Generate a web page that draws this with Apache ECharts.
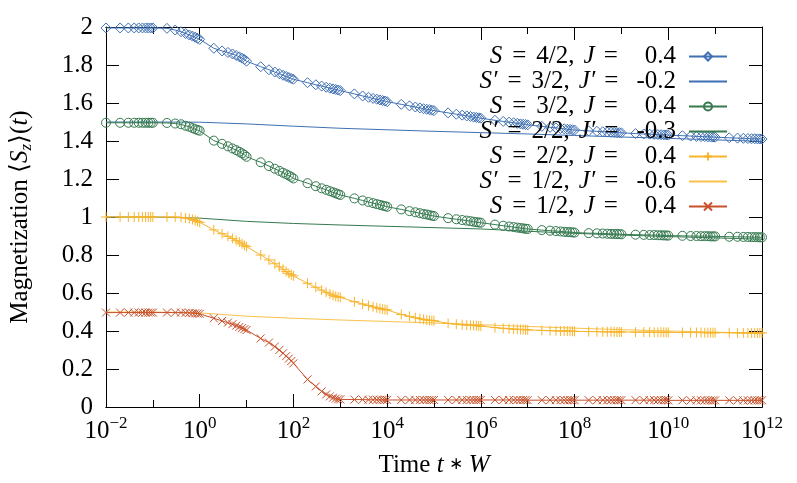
<!DOCTYPE html>
<html>
<head>
<meta charset="utf-8">
<script src="https://cdn.jsdelivr.net/npm/echarts@6/dist/echarts.min.js"></script>
<style>html,body{margin:0;padding:0;background:#fff}#c{width:797px;height:483px}</style>
</head>
<body>
<div id="c"></div>
<script>
// ---- data ----
const decadeExps = [-2,-1,0,1,2,3,4,5,6,7,8,9,10,11];
const multipliers = [1,2,3,4,5,6,7,8,9];
const lastTime = 1e12;
// decade times used by the plain-line series
const lineTimes = [1e-2,1e-1,1e0,1e1,1e2,1e3,1e4,1e5,1e6,1e7,1e8,1e9,1e10,1e11,1e12];

const majorTicks = [1e-2,1e0,1e2,1e4,1e6,1e8,1e10,1e12];
const minorTicks = [1e-1,1e1,1e3,1e5,1e7,1e9,1e11];

const legendNames = [
  'S = 4/2, J = 0.4', "S' = 3/2, J' = -0.2",
  'S = 3/2, J = 0.4', "S' = 2/2, J' = -0.3",
  'S = 2/2, J = 0.4', "S' = 1/2, J' = -0.6",
  'S = 1/2, J = 0.4'
];

// S = 4/2, J = 0.4  (diamonds)
const magS4 = [
 1.995,1.995,1.995,1.995,1.995,1.995,1.995,1.995,1.995,
 1.995,1.993,1.984,1.975,1.966,1.958,1.952,1.946,1.940,
 1.935,1.888,1.874,1.866,1.858,1.850,1.843,1.836,1.829,
 1.820,1.791,1.775,1.763,1.754,1.746,1.740,1.734,1.729,
 1.725,1.707,1.696,1.689,1.683,1.678,1.674,1.671,1.668,
 1.665,1.648,1.637,1.630,1.624,1.620,1.616,1.613,1.610,
 1.607,1.593,1.585,1.579,1.574,1.570,1.567,1.565,1.562,
 1.560,1.548,1.541,1.536,1.532,1.529,1.526,1.524,1.522,
 1.520,1.509,1.503,1.499,1.496,1.493,1.490,1.488,1.487,
 1.485,1.477,1.472,1.469,1.466,1.464,1.462,1.461,1.459,
 1.458,1.453,1.451,1.449,1.447,1.446,1.445,1.444,1.444,
 1.443,1.439,1.437,1.436,1.435,1.434,1.433,1.432,1.432,
 1.431,1.428,1.426,1.424,1.423,1.423,1.422,1.421,1.421,
 1.420,1.417,1.415,1.414,1.413,1.412,1.412,1.411,1.411,
 1.410
];
// S' = 3/2, J' = -0.2 (line)
const magSp3 = [1.500,1.500,1.499,1.490,1.478,1.467,1.459,1.451,1.444,1.437,1.429,1.421,1.414,1.406,1.398];

// S = 3/2, J = 0.4 (circles)
const magS3 = [
 1.496,1.496,1.496,1.496,1.496,1.496,1.496,1.496,1.496,
 1.496,1.495,1.492,1.488,1.480,1.475,1.468,1.462,1.458,
 1.454,1.402,1.385,1.372,1.361,1.352,1.343,1.335,1.327,
 1.317,1.288,1.268,1.254,1.243,1.233,1.225,1.218,1.211,
 1.203,1.178,1.162,1.151,1.143,1.136,1.130,1.125,1.120,
 1.116,1.098,1.087,1.079,1.073,1.068,1.064,1.060,1.057,
 1.054,1.040,1.031,1.025,1.020,1.016,1.013,1.010,1.007,
 1.005,0.994,0.988,0.984,0.981,0.978,0.975,0.973,0.971,
 0.970,0.960,0.954,0.950,0.947,0.944,0.942,0.940,0.938,
 0.937,0.931,0.928,0.926,0.924,0.922,0.921,0.920,0.919,
 0.918,0.915,0.914,0.913,0.912,0.911,0.911,0.910,0.910,
 0.909,0.907,0.906,0.905,0.905,0.904,0.904,0.903,0.903,
 0.902,0.901,0.900,0.900,0.899,0.899,0.899,0.898,0.898,
 0.898,0.896,0.896,0.895,0.895,0.894,0.894,0.894,0.893,
 0.893
];
// S' = 2/2, J' = -0.3 (line)
const magSp2 = [1.000,1.000,0.994,0.977,0.966,0.958,0.951,0.944,0.937,0.925,0.914,0.905,0.897,0.890,0.883];

// S = 2/2, J = 0.4 (plus)
const magS2 = [
 1.000,1.000,1.000,1.000,1.000,1.000,1.000,1.000,1.000,
 1.000,1.000,1.000,0.998,0.995,0.992,0.987,0.982,0.977,
 0.972,0.932,0.912,0.898,0.887,0.877,0.868,0.859,0.851,
 0.844,0.800,0.774,0.754,0.738,0.725,0.713,0.703,0.696,
 0.690,0.651,0.630,0.615,0.604,0.595,0.588,0.582,0.579,
 0.577,0.554,0.542,0.534,0.527,0.522,0.518,0.515,0.513,
 0.511,0.487,0.477,0.470,0.465,0.461,0.458,0.456,0.455,
 0.454,0.440,0.436,0.433,0.431,0.430,0.429,0.428,0.427,
 0.426,0.418,0.414,0.412,0.410,0.409,0.408,0.408,0.407,
 0.406,0.403,0.402,0.401,0.400,0.400,0.400,0.399,0.399,
 0.398,0.397,0.397,0.396,0.396,0.396,0.396,0.395,0.395,
 0.395,0.394,0.394,0.394,0.393,0.393,0.393,0.393,0.393,
 0.393,0.392,0.392,0.392,0.392,0.391,0.391,0.391,0.391,
 0.391,0.391,0.390,0.390,0.390,0.390,0.390,0.390,0.390,
 0.390
];
// S' = 1/2, J' = -0.6 (line)
const magSp1 = [0.500,0.500,0.495,0.478,0.467,0.458,0.450,0.442,0.433,0.424,0.415,0.407,0.400,0.394,0.388];

// S = 1/2, J = 0.4 (crosses)
const magS1 = [
 0.497,0.497,0.497,0.497,0.497,0.497,0.497,0.497,0.497,
 0.497,0.497,0.497,0.497,0.496,0.495,0.494,0.493,0.492,
 0.490,0.467,0.453,0.444,0.436,0.428,0.421,0.415,0.410,
 0.405,0.361,0.339,0.318,0.300,0.283,0.268,0.255,0.242,
 0.230,0.145,0.108,0.082,0.066,0.056,0.049,0.044,0.041,
 0.040,0.039,0.039,0.038,0.038,0.038,0.038,0.038,0.038,
 0.037,0.037,0.037,0.037,0.037,0.037,0.037,0.037,0.037,
 0.037,0.037,0.037,0.037,0.037,0.037,0.037,0.037,0.037,
 0.037,0.037,0.037,0.037,0.037,0.037,0.037,0.037,0.037,
 0.036,0.036,0.036,0.036,0.036,0.036,0.036,0.036,0.036,
 0.036,0.036,0.036,0.036,0.036,0.036,0.036,0.036,0.036,
 0.036,0.036,0.036,0.036,0.036,0.036,0.036,0.036,0.036,
 0.035,0.035,0.035,0.035,0.035,0.035,0.035,0.035,0.035,
 0.035,0.035,0.035,0.035,0.035,0.035,0.035,0.035,0.035,
 0.035
];

// ---- build ----
const times = [];
decadeExps.forEach(e => multipliers.forEach(m => times.push(Number((m * Math.pow(10, e)).toPrecision(6)))));
times.push(lastTime);

const pair = (xs, ys) => xs.map((x, i) => [x, ys[i]]);

const FONT = 'Liberation Serif';
const FS = 25;
const blue = '#3f70b3', green = '#367a50', yellow = '#f7b52e', yellowL = '#fbc24a', red = '#c8502a';
const clear = 'rgba(255,255,255,0)';
const plusPath = 'path://M0,5L10,5M5,0L5,10';
const crossPath = 'path://M0,0L10,10M0,10L10,0';

function markSeries(name, ys, color, symbol, size) {
  return {
    name, type: 'line', data: pair(times, ys), xAxisIndex: 0, yAxisIndex: 0,
    symbol, symbolSize: size, showAllSymbol: true,
    lineStyle: { color, width: 1 },
    itemStyle: { color: clear, borderColor: color, borderWidth: 1 },
    emphasis: { disabled: true }, animation: false, z: 3
  };
}
function lineSeries(name, ys, color) {
  return {
    name, type: 'line', data: pair(lineTimes, ys), xAxisIndex: 0, yAxisIndex: 0,
    symbol: 'none', lineStyle: { color, width: 1 },
    itemStyle: { color: clear, borderWidth: 0, opacity: 0 },
    emphasis: { disabled: true }, animation: false, z: 2
  };
}

const base = { fontFamily: FONT, fontSize: FS, color: '#000', lineHeight: 24 };
const richLegend = {
  i: Object.assign({}, base, { fontStyle: 'italic' }),
  r: Object.assign({}, base),
  a: Object.assign({}, base, { fontFamily: 'DejaVu Sans', fontSize: 17 }),
  e1: Object.assign({}, base, { padding: [0, 10, 0, 10] }),
  fr: Object.assign({}, base, { padding: [0, 9, 0, 0] }),
  e2: Object.assign({}, base, { padding: [0, 13, 0, 9] }),
  vp: Object.assign({}, base, { padding: [0, 0, 0, 14] }),
  vn: Object.assign({}, base, { padding: [0, 0, 0, 5] }),
  p: Object.assign({}, base, { width: 8 })
};
function legendFmt(name) {
  const m = name.match(/^(S'?) = (\d\/\d), (J'?) = (-?[\d.]+)$/);
  const prime = m[1].length > 1 ? '′' : '';
  const vs = m[4].startsWith('-') ? 'vn' : 'vp';
  return '{i|S' + prime + '}{e1|=}{fr|' + m[2] + ',}{i|J' + prime + '}{e2|=}{' + vs + '|' + m[4] + '}{p| }';
}

const xLabelRich = {
  b: { fontFamily: FONT, fontSize: FS, color: '#000' },
  s: { fontFamily: FONT, fontSize: 17, color: '#000', padding: [0, 0, 15, 0] }
};
function xLabelFmt(v) {
  const e = Math.round(Math.log10(v));
  return '{b|10}{s|' + (e < 0 ? '−' + (-e) : e) + '}';
}

function xAxisDef(pos, ticks, len, showLabel) {
  return {
    type: 'log', logBase: 10, min: 1e-2, max: 1e12, position: pos, gridIndex: 0,
    axisLine: { show: true, lineStyle: { color: '#000', width: 1 } },
    axisTick: { show: true, inside: true, length: len, customValues: ticks, lineStyle: { color: '#000', width: 1 } },
    axisLabel: showLabel ? { show: true, customValues: majorTicks, formatter: xLabelFmt, rich: xLabelRich, margin: 8 } : { show: false },
    splitLine: { show: false }, minorTick: { show: false }
  };
}

const legendData = legendNames.map((n, i) => (i % 2 === 1 ? { name: n, itemStyle: { opacity: 0 } } : { name: n }));

const chart = echarts.init(document.getElementById('c'), null, { renderer: 'canvas' });
chart.setOption({
  animation: false,
  backgroundColor: '#fff',
  grid: { left: 106, right: 35, top: 27, bottom: 76, containLabel: false },
  legend: {
    orient: 'vertical', right: 64, top: 39, align: 'right',
    itemWidth: 38, itemHeight: 10, itemGap: 0,
    data: legendData,
    formatter: legendFmt,
    textStyle: { fontFamily: FONT, fontSize: FS, color: '#000', lineHeight: 24, rich: richLegend },
    selectedMode: false
  },
  xAxis: [
    Object.assign(xAxisDef('bottom', majorTicks, 13, true), {
      name: '{r|Time }{i|t}{a| ∗ }{i|W}', nameLocation: 'middle', nameGap: 46,
      nameTextStyle: { rich: richLegend }
    }),
    xAxisDef('bottom', minorTicks, 7, false),
    xAxisDef('top', majorTicks, 13, false),
    xAxisDef('top', minorTicks, 7, false)
  ],
  yAxis: [
    {
      type: 'value', min: 0, max: 2, interval: 0.2, position: 'left',
      axisLine: { show: true, lineStyle: { color: '#000', width: 1 } },
      axisTick: { show: true, inside: true, length: 13, lineStyle: { color: '#000' } },
      axisLabel: { fontFamily: FONT, fontSize: FS, color: '#000', margin: 13 },
      splitLine: { show: false },
      name: '{r|Magnetization ⟨}{i|S}{s|z}{r|⟩(}{i|t}{r|)}', nameLocation: 'middle', nameRotate: 90, nameGap: 71,
      nameTextStyle: { rich: Object.assign({ s: { fontFamily: FONT, fontStyle: 'italic', fontSize: 17, color: '#000', padding: [12, 0, 0, 0] } }, richLegend) }
    },
    {
      type: 'value', min: 0, max: 2, interval: 0.2, position: 'right',
      axisLine: { show: true, lineStyle: { color: '#000', width: 1 } },
      axisTick: { show: true, inside: true, length: 13, lineStyle: { color: '#000' } },
      axisLabel: { show: false }, splitLine: { show: false }
    }
  ],
  series: [
    markSeries(legendNames[0], magS4, blue, 'diamond', [10, 10]),
    lineSeries(legendNames[1], magSp3, blue),
    markSeries(legendNames[2], magS3, green, 'circle', 9),
    lineSeries(legendNames[3], magSp2, green),
    markSeries(legendNames[4], magS2, yellow, plusPath, 10),
    lineSeries(legendNames[5], magSp1, yellowL),
    markSeries(legendNames[6], magS1, red, crossPath, 8)
  ]
});
</script>
</body>
</html>
